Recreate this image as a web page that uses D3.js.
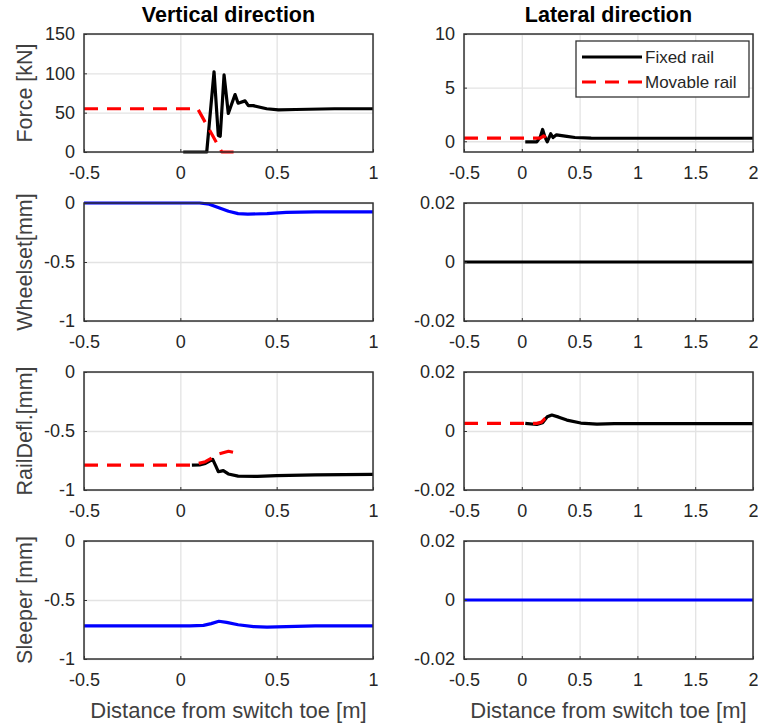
<!DOCTYPE html>
<html>
<head>
<meta charset="utf-8">
<script src="https://cdn.jsdelivr.net/npm/d3@7"></script>
<style>
  body { margin: 0; background: #fff; }
  text { font-family: "Liberation Sans", Arial, sans-serif; }
</style>
</head>
<body>
<div id="chart"></div>
<script>
// ---- data ----
var columnTitles = ["Vertical direction", "Lateral direction"];
var rowLabels = ["Force [kN]", "Wheelset[mm]", "RailDefl.[mm]", "Sleeper [mm]"];
var xLabel = "Distance from switch toe [m]";
var legendNames = ["Fixed rail", "Movable rail"];

var xTicksVert = [-0.5, 0, 0.5, 1];
var xTicksLat = [-0.5, 0, 0.5, 1, 1.5, 2];
var yTicksForceVert = [0, 50, 100, 150];
var yTicksForceLat = [0, 5, 10];
var yTicksMm = [-1, -0.5, 0];
var yTicksSmall = [-0.02, 0, 0.02];

// vertical force
var forceVertFixedX = [0.015, 0.137, 0.175, 0.197, 0.207, 0.227, 0.249, 0.284, 0.30, 0.336, 0.353, 0.378, 0.448, 0.51, 0.6, 0.8, 1.0];
var forceVertFixedY = [0, 0, 102, 21, 20, 98, 49, 73, 62, 65, 59, 59, 55, 53.5, 54, 55, 55];
var forceVertMovX = [-0.5, 0.09, 0.215, 0.29];
var forceVertMovY = [55, 55, 0, 0];

// lateral force
var forceLatFixedX = [0.03, 0.13, 0.16, 0.18, 0.2, 0.22, 0.25, 0.27, 0.3, 0.39, 0.46, 0.6, 1.0, 2.0];
var forceLatFixedY = [-0.05, -0.05, 0.4, 1.1, 0.4, -0.05, 0.7, 0.35, 0.6, 0.45, 0.35, 0.3, 0.28, 0.28];
var forceLatMovX = [-0.5, 0.16, 0.19, 0.22];
var forceLatMovY = [0.3, 0.3, 0.5, 0.2];

// wheelset displacement
var wheelVertX = [-0.5, 0.1, 0.15, 0.2, 0.25, 0.3, 0.35, 0.45, 0.55, 0.7, 1.0];
var wheelVertY = [0, 0, -0.01, -0.04, -0.07, -0.09, -0.095, -0.09, -0.08, -0.075, -0.075];
var wheelLatX = [-0.5, 2.0];
var wheelLatY = [0, 0];

// rail deflection
var railVertFixedX = [0.06, 0.1, 0.13, 0.168, 0.185, 0.197, 0.212, 0.223, 0.249, 0.3, 0.4, 0.5, 0.7, 1.0];
var railVertFixedY = [-0.79, -0.787, -0.775, -0.74, -0.8, -0.845, -0.84, -0.836, -0.864, -0.882, -0.885, -0.878, -0.872, -0.868];
var railVertMovX = [-0.5, 0.06, 0.13, 0.17, 0.2, 0.25, 0.29];
var railVertMovY = [-0.79, -0.79, -0.76, -0.723, -0.695, -0.672, -0.686];
var railLatFixedX = [0.03, 0.13, 0.18, 0.22, 0.26, 0.32, 0.39, 0.51, 0.65, 0.8, 2.0];
var railLatFixedY = [0.0026, 0.0022, 0.0028, 0.0048, 0.0054, 0.0047, 0.0037, 0.0027, 0.0023, 0.0025, 0.0025];
var railLatMovX = [-0.5, 0.13, 0.17, 0.2, 0.22];
var railLatMovY = [0.0026, 0.0026, 0.003, 0.0042, 0.0045];

// sleeper displacement
var sleeperVertX = [-0.5, 0.05, 0.12, 0.16, 0.2, 0.24, 0.3, 0.38, 0.45, 0.55, 0.7, 1.0];
var sleeperVertY = [-0.72, -0.72, -0.715, -0.7, -0.68, -0.69, -0.71, -0.725, -0.73, -0.725, -0.72, -0.72];
var sleeperLatX = [-0.5, 2.0];
var sleeperLatY = [0, 0];

// ---- layout ----
var svgWidth = 758;
var svgHeight = 726;
var colLeft = [84, 464];
var rowTop = [34, 203, 372, 541];
var plotW = 289;
var plotH = 118;

var BLACK = "#000000", RED = "#ff0000", BLUE = "#0000ff";

function pts(xs, ys) {
  return xs.map(function(x, i) { return [x, ys[i]]; });
}

var panels = [
  { row: 0, col: 0, xDomain: [-0.5, 1], xTicks: xTicksVert, yDomain: [0, 150], yTicks: yTicksForceVert,
    series: [{ data: pts(forceVertFixedX, forceVertFixedY), color: BLACK },
             { data: pts(forceVertMovX, forceVertMovY), color: RED, dashed: true }] },
  { row: 0, col: 1, xDomain: [-0.5, 2], xTicks: xTicksLat, yDomain: [-1, 10], yTicks: yTicksForceLat, legend: true,
    series: [{ data: pts(forceLatFixedX, forceLatFixedY), color: BLACK },
             { data: pts(forceLatMovX, forceLatMovY), color: RED, dashed: true }] },
  { row: 1, col: 0, xDomain: [-0.5, 1], xTicks: xTicksVert, yDomain: [-1, 0], yTicks: yTicksMm,
    series: [{ data: pts(wheelVertX, wheelVertY), color: BLUE }] },
  { row: 1, col: 1, xDomain: [-0.5, 2], xTicks: xTicksLat, yDomain: [-0.02, 0.02], yTicks: yTicksSmall,
    series: [{ data: pts(wheelLatX, wheelLatY), color: BLACK }] },
  { row: 2, col: 0, xDomain: [-0.5, 1], xTicks: xTicksVert, yDomain: [-1, 0], yTicks: yTicksMm,
    series: [{ data: pts(railVertFixedX, railVertFixedY), color: BLACK },
             { data: pts(railVertMovX, railVertMovY), color: RED, dashed: true }] },
  { row: 2, col: 1, xDomain: [-0.5, 2], xTicks: xTicksLat, yDomain: [-0.02, 0.02], yTicks: yTicksSmall,
    series: [{ data: pts(railLatFixedX, railLatFixedY), color: BLACK },
             { data: pts(railLatMovX, railLatMovY), color: RED, dashed: true }] },
  { row: 3, col: 0, xDomain: [-0.5, 1], xTicks: xTicksVert, yDomain: [-1, 0], yTicks: yTicksMm,
    series: [{ data: pts(sleeperVertX, sleeperVertY), color: BLUE }] },
  { row: 3, col: 1, xDomain: [-0.5, 2], xTicks: xTicksLat, yDomain: [-0.02, 0.02], yTicks: yTicksSmall,
    series: [{ data: pts(sleeperLatX, sleeperLatY), color: BLUE }] }
];

var svg = d3.select("#chart")
  .append("svg")
  .attr("width", svgWidth)
  .attr("height", svgHeight);

function drawPanel(p, idx) {
  var g = svg.append("g")
    .attr("transform", "translate(" + colLeft[p.col] + "," + rowTop[p.row] + ")");

  var x = d3.scaleLinear().domain(p.xDomain).range([0, plotW]);
  var y = d3.scaleLinear().domain(p.yDomain).range([plotH, 0]);

  // grid
  g.append("g")
    .call(d3.axisBottom(x).tickValues(p.xTicks).tickSize(plotH).tickFormat(""))
    .call(function(s) { s.select(".domain").remove(); })
    .selectAll("line").attr("stroke", "#e3e3e3").attr("stroke-width", 1.3);
  g.append("g")
    .call(d3.axisLeft(y).tickValues(p.yTicks).tickSize(-plotW).tickFormat(""))
    .call(function(s) { s.select(".domain").remove(); })
    .selectAll("line").attr("stroke", "#e3e3e3").attr("stroke-width", 1.3);

  // lines
  var clipId = "clip" + idx;
  g.append("clipPath").attr("id", clipId)
    .append("rect").attr("x", 0).attr("y", -2).attr("width", plotW).attr("height", plotH + 4);

  var line = d3.line()
    .x(function(d) { return x(d[0]); })
    .y(function(d) { return y(d[1]); });

  p.series.forEach(function(s) {
    g.append("path")
      .datum(s.data)
      .attr("clip-path", "url(#" + clipId + ")")
      .attr("fill", "none")
      .attr("stroke", s.color)
      .attr("stroke-width", 3.2)
      .attr("stroke-linejoin", "round")
      .attr("stroke-dasharray", s.dashed ? "14,9" : null)
      .attr("d", line);
  });

  // axes with inward ticks
  var xAxis = g.append("g")
    .attr("transform", "translate(0," + plotH + ")")
    .call(d3.axisBottom(x).tickValues(p.xTicks).tickSizeInner(-3).tickSizeOuter(0)
      .tickPadding(14).tickFormat(function(d) { return String(d); }));
  var yAxis = g.append("g")
    .call(d3.axisLeft(y).tickValues(p.yTicks).tickSizeInner(-3).tickSizeOuter(0)
      .tickPadding(9).tickFormat(function(d) { return String(d); }));

  [xAxis, yAxis].forEach(function(a) {
    a.select(".domain").remove();
    a.selectAll("line").attr("stroke", "#333");
    a.selectAll("text")
      .attr("fill", "#262626")
      .style("font-size", "18px")
      .style("font-family", "'Liberation Sans', Arial, sans-serif");
  });

  // box
  g.append("rect")
    .attr("width", plotW)
    .attr("height", plotH)
    .attr("fill", "none")
    .attr("stroke", "#333")
    .attr("stroke-width", 1.5);

  if (p.legend) {
    var lg = g.append("g").attr("transform", "translate(112,7)");
    lg.append("rect")
      .attr("width", 173).attr("height", 56)
      .attr("fill", "#fff").attr("stroke", "#333").attr("stroke-width", 1.3);
    p.series.forEach(function(s, i) {
      var yy = 16 + i * 25;
      lg.append("line")
        .attr("x1", 6).attr("x2", 66).attr("y1", yy).attr("y2", yy)
        .attr("stroke", s.color).attr("stroke-width", 3.2)
        .attr("stroke-dasharray", s.dashed ? "14,9" : null);
      lg.append("text")
        .attr("x", 69).attr("y", yy).attr("dy", "0.35em")
        .attr("fill", "#262626")
        .style("font-size", "17px")
        .text(legendNames[i]);
    });
  }
}

panels.forEach(drawPanel);

// column titles
columnTitles.forEach(function(t, i) {
  svg.append("text")
    .attr("x", colLeft[i] + plotW / 2)
    .attr("y", 22)
    .attr("text-anchor", "middle")
    .attr("font-weight", "bold")
    .attr("fill", "#000")
    .style("font-size", "21.5px")
    .text(t);
});

// row labels (left column only)
rowLabels.forEach(function(t, i) {
  svg.append("text")
    .attr("transform", "translate(24," + (rowTop[i] + plotH / 2) + ") rotate(-90)")
    .attr("text-anchor", "middle")
    .attr("dy", "0.35em")
    .attr("fill", "#404040")
    .style("font-size", "21.5px")
    .text(t);
});

// x labels
colLeft.forEach(function(l) {
  svg.append("text")
    .attr("x", l + plotW / 2)
    .attr("y", 718)
    .attr("text-anchor", "middle")
    .attr("fill", "#404040")
    .style("font-size", "22px")
    .text(xLabel);
});
</script>
</body>
</html>
